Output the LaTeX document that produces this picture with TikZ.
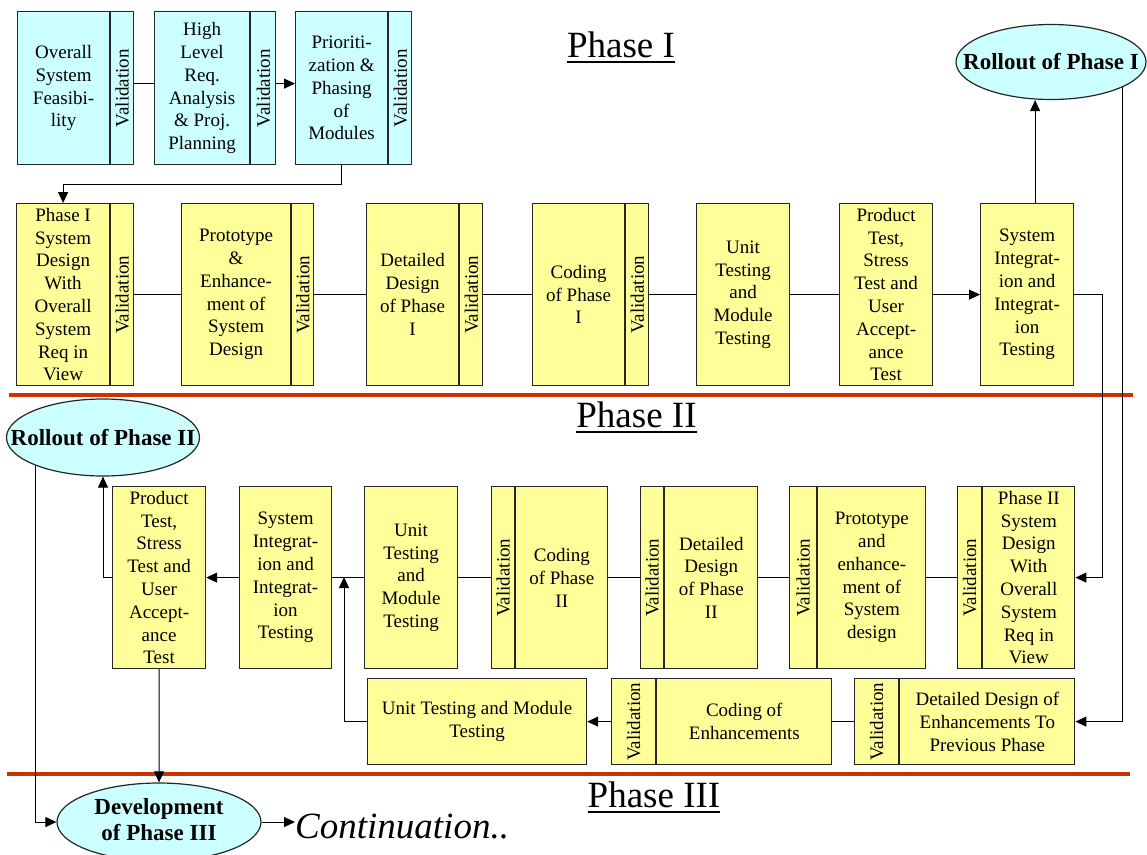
\documentclass[tikz,border=0pt]{standalone}
\usepackage{fontspec}
\setmainfont{Liberation Serif}
\usetikzlibrary{arrows.meta,shapes.geometric,backgrounds}
\definecolor{cyanfill}{HTML}{CCFFFF}
\definecolor{yellowfill}{HTML}{FFFF99}
\definecolor{phasered}{HTML}{CC3300}
\begin{document}
\begin{tikzpicture}[x=1pt,y=-1pt,
  body/.style={font=\fontsize{19}{22.8}\selectfont},
  box/.style={body, draw=black!85, line width=1.2pt, inner sep=0pt, align=center, anchor=north west},
  cbox/.style={box, fill=cyanfill},
  ybox/.style={box, fill=yellowfill},
  sz/.style 2 args={minimum width=#1pt, minimum height=#2pt},
  oval/.style={ellipse, draw=black!85, line width=1.2pt, fill=cyanfill, inner sep=0pt,
    font=\fontsize{23}{26}\selectfont\bfseries},
  title/.style={font=\fontsize{37}{40}\selectfont, inner sep=0pt, anchor=base},
  conn/.style={draw=black, line width=1pt},
  arr/.style={-{Triangle[length=11pt,width=10pt]}},
  redline/.style={draw=phasered, line width=4pt},
  uline/.style={draw=black, line width=1.8pt}
]
\useasboundingbox (0,0) rectangle (1147,854);

% ---------- Phase I: planning row ----------
\node[cbox, sz={92}{153}] (t1) at (17,11) {Overall\\System\\Feasibi-\\lity};
\node[cbox, sz={23}{153}] (t1v) at (t1.north east) {\rotatebox{90}{Validation}};
\node[cbox, sz={95}{153}] (t2) at (154,11) {High\\Level\\Req.\\Analysis\\\& Proj.\\Planning};
\node[cbox, sz={25}{153}] (t2v) at (t2.north east) {\rotatebox{90}{Validation}};
\node[cbox, sz={92}{153}] (t3) at (295,11) {Prioriti-\\zation \&\\Phasing\\of\\Modules};
\node[cbox, sz={23}{153}] (t3v) at (t3.north east) {\rotatebox{90}{Validation}};

% ---------- Phase I: development row ----------
\node[ybox, sz={93}{182}] (r1) at (16,203) {Phase I\\System\\Design\\With\\Overall\\System\\Req in\\View};
\node[ybox, sz={23}{182}] (r1v) at (r1.north east) {\rotatebox{90}{Validation}};
\node[ybox, sz={109}{182}] (r2) at (181,203) {Prototype\\\&\\Enhance-\\ment of\\System\\Design};
\node[ybox, sz={22}{182}] (r2v) at (r2.north east) {\rotatebox{90}{Validation}};
\node[ybox, sz={92}{182}] (r3) at (366,203) {Detailed\\Design\\of Phase\\I};
\node[ybox, sz={23}{182}] (r3v) at (r3.north east) {\rotatebox{90}{Validation}};
\node[ybox, sz={92}{182}] (r4) at (532,203) {Coding\\of Phase\\I};
\node[ybox, sz={23}{182}] (r4v) at (r4.north east) {\rotatebox{90}{Validation}};
\node[ybox, sz={93}{182}] (r5) at (696,203) {Unit\\Testing\\and\\Module\\Testing};
\node[ybox, sz={93}{182}] (r6) at (839,203) {Product\\Test,\\Stress\\Test and\\User\\Accept-\\ance\\Test};
\node[ybox, sz={93}{182}] (r7) at (980,203) {System\\Integrat-\\ion and\\Integrat-\\ion\\Testing};

\node[oval, minimum width=190pt, minimum height=75pt] (roll1) at (1051,62) {\makebox[0pt]{Rollout of Phase I}};

% ---------- Phase II row ----------
\node[ybox, sz={24}{182}] (p1v) at (957,486) {\rotatebox{90}{Validation}};
\node[ybox, sz={92}{182}] (p1) at (p1v.north east) {Phase II\\System\\Design\\With\\Overall\\System\\Req in\\View};
\node[ybox, sz={27}{182}] (p2v) at (789,486) {\rotatebox{90}{Validation}};
\node[ybox, sz={108}{182}] (p2) at (p2v.north east) {Prototype\\and\\enhance-\\ment of\\System\\design};
\node[ybox, sz={23}{182}] (p3v) at (640,486) {\rotatebox{90}{Validation}};
\node[ybox, sz={93}{182}] (p3) at (p3v.north east) {Detailed\\Design\\of Phase\\II};
\node[ybox, sz={23}{182}] (p4v) at (491,486) {\rotatebox{90}{Validation}};
\node[ybox, sz={92}{182}] (p4) at (p4v.north east) {Coding\\of Phase\\II};
\node[ybox, sz={93}{182}] (p5) at (364,486) {Unit\\Testing\\and\\Module\\Testing};
\node[ybox, sz={92}{182}] (p6) at (239,486) {System\\Integrat-\\ion and\\Integrat-\\ion\\Testing};
\node[ybox, sz={93}{182}] (p7) at (112,486) {Product\\Test,\\Stress\\Test and\\User\\Accept-\\ance\\Test};

\node[oval, minimum width=193pt, minimum height=77pt] (roll2) at (103,437.5) {\makebox[0pt]{Rollout of Phase II}};

% ---------- enhancement row ----------
\node[ybox, sz={219}{86}] (ut) at (367,678) {Unit Testing and Module\\Testing};
\node[ybox, sz={44}{86}] (cev) at (611,678) {\rotatebox{90}{Validation}};
\node[ybox, sz={175}{86}] (ce) at (cev.north east) {Coding of\\Enhancements};
\node[ybox, sz={44}{86}] (dev) at (854,678) {\rotatebox{90}{Validation}};
\node[ybox, sz={175}{86}] (de) at (dev.north east) {Detailed Design of\\Enhancements To\\Previous Phase};

% ---------- Phase III ----------
\node[oval, minimum width=204pt, minimum height=78pt] (dev3) at (159,822)
  {\makebox[0pt]{\begin{tabular}{@{}c@{}}Development\\of Phase III\end{tabular}}};
\node[font=\fontsize{37}{40}\selectfont\itshape, inner sep=0pt, anchor=base west] (cont) at (295,838) {Continuation..};

% ---------- phase titles ----------
\node[title] (ph1) at (621,57) {Phase I};
\node[title] (ph2) at (636.5,427) {Phase II};
\node[title] (ph3) at (654,807) {Phase III};
\draw[uline] ([yshift=-5pt]ph1.base west) -- ([yshift=-5pt]ph1.base east);
\draw[uline] ([yshift=-5pt]ph2.base west) -- ([yshift=-5pt]ph2.base east);
\draw[uline] ([yshift=-5pt]ph3.base west) -- ([yshift=-5pt]ph3.base east);

\coordinate (j) at (344,577);

\begin{scope}[on background layer]
  % phase separators
  \draw[redline] (9,395) -- (1133,395);
  \draw[redline] (7,774) -- (1130,774);

  % planning chain
  \draw[conn] ([yshift=4.5pt]t1v.east) -- ([yshift=4.5pt]t2.west);
  \draw[conn,arr] ([yshift=4.5pt]t2v.east) -- ([yshift=4.5pt]t3.west);
  \draw[conn,arr] (t3.south) -- ++(0,19) -| (r1.north);

  % Phase I chain
  \draw[conn] (r1v.east) -- (r2.west);
  \draw[conn] (r2v.east) -- (r3.west);
  \draw[conn] (r3v.east) -- (r4.west);
  \draw[conn] (r4v.east) -- (r5.west);
  \draw[conn] (r5.east) -- (r6.west);
  \draw[conn,arr] (r6.east) -- (r7.west);
  \draw[conn,arr] ([xshift=8pt]r7.north) -- ([xshift=8pt]r7.north |- roll1.south);
  \draw[conn,arr] ([xshift=71pt]roll1.center) |- (de.east);
  \draw[conn,arr] (r7.east) -- ++(28,0) |- (p1.east);

  % Phase II chain
  \draw[conn] (p1v.west) -- (p2.east);
  \draw[conn] (p2v.west) -- (p3.east);
  \draw[conn] (p3v.west) -- (p4.east);
  \draw[conn] (p4v.west) -- (p5.east);
  \draw[conn] (p5.west) -- (p6.east);
  \draw[conn,arr] (p6.west) -- (p7.east);
  \draw[conn,arr] (p7.west) -| (roll2.south);
  \draw[conn,arr] (p7.south) -- (dev3.north);
  \draw[conn,arr] ([xshift=-68pt]roll2.center) |- (dev3.west);

  % enhancement chain
  \draw[conn] (dev.west) -- (ce.east);
  \draw[conn,arr] (cev.west) -- (ut.east);
  \draw[conn,arr] (ut.west) -| (j);

  % continuation
  \draw[conn,arr] (dev3.east) -- (dev3.east -| cont.west);
\end{scope}
\end{tikzpicture}
\end{document}
